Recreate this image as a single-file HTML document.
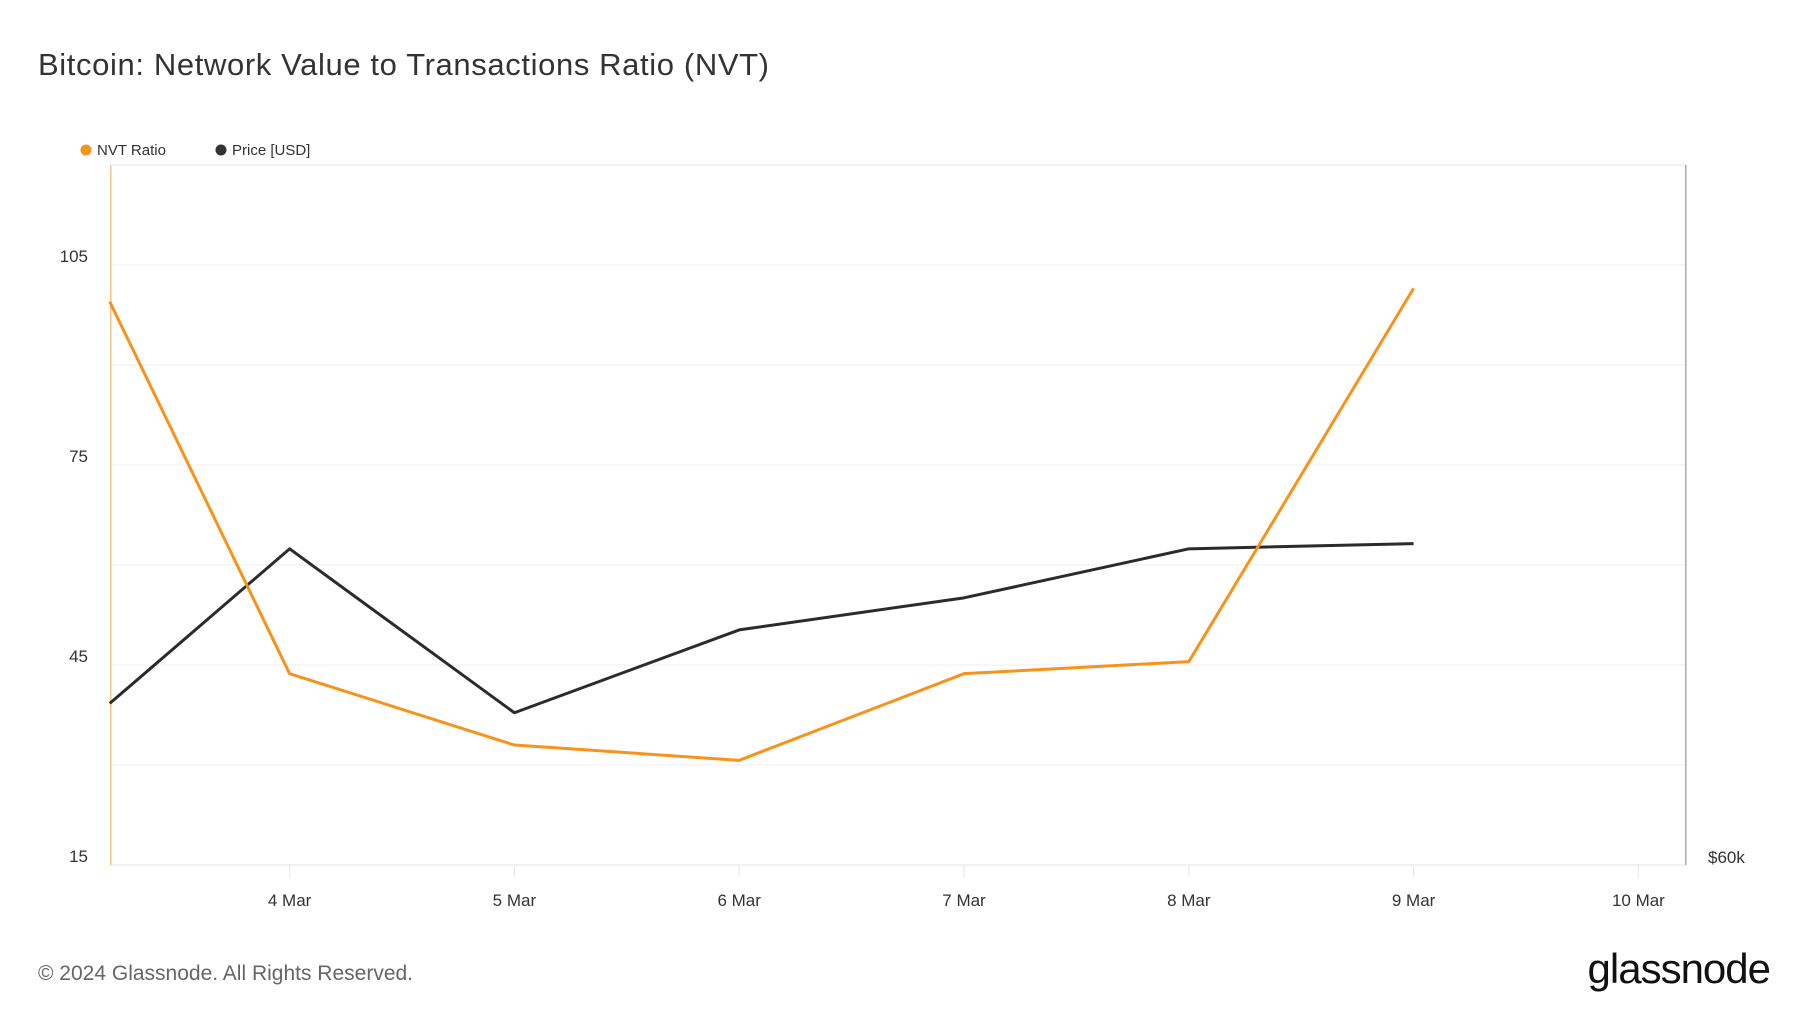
<!DOCTYPE html>
<html><head><meta charset="utf-8">
<style>
html,body{margin:0;padding:0;background:#fff;}
body{width:1800px;height:1013px;overflow:hidden;font-family:"Liberation Sans",sans-serif;}
</style></head>
<body>
<svg width="1800" height="1013" viewBox="0 0 1800 1013" xmlns="http://www.w3.org/2000/svg" font-family="Liberation Sans, sans-serif">
<text x="38" y="75" font-size="31" fill="#333" textLength="731">Bitcoin: Network Value to Transactions Ratio (NVT)</text>
<g>
<circle cx="86" cy="150" r="5.5" fill="#f7931a"/>
<text x="97" y="155" font-size="15" fill="#333">NVT Ratio</text>
<circle cx="221" cy="150" r="5.5" fill="#333"/>
<text x="232" y="155" font-size="15" fill="#333">Price [USD]</text>
</g>
<g id="grid"></g>
<rect x="110.8" y="165" width="1575" height="700" fill="none" stroke="#e6e6e6"/>
<line x1="110.8" y1="165" x2="110.8" y2="865" stroke="#f5c48a" stroke-width="1.5"/>
<line x1="1685.8" y1="165" x2="1685.8" y2="865" stroke="#aaa" stroke-width="1.5"/>
<g id="axes"></g>
<g id="series"></g>
<text x="38" y="980" font-size="21" fill="#666">© 2024 Glassnode. All Rights Reserved.</text>
<text x="1770" y="983" font-size="42" fill="#111" text-anchor="end" font-weight="500" letter-spacing="-1">glassnode</text>
</svg>
<script>
const dayOffsets = [-0.8,0,1,2,3,4,5];
const nvtValues = [99.5,43.7,33.0,30.7,43.7,45.5,101.5];
const priceValues = [62.77,65.42,62.61,64.03,64.58,65.42,65.51];
const xTickLabels = ["4 Mar","5 Mar","6 Mar","7 Mar","8 Mar","9 Mar","10 Mar"];
const yTicks = [15,45,75,105];
const yGrid = [15,30,45,60,75,90,105];

const NS="http://www.w3.org/2000/svg";
const L=110.8,R=1685.8,T=165,B=865;
const dayW=224.8, x4=289.6;
function xDay(d){return x4+d*dayW;}
function yNvt(v){return B-(v-15)*(600/90);}
function yPrice(v){return B-(v-60)*(700/12);}
function mk(tag,attrs,parent){const e=document.createElementNS(NS,tag);for(const k in attrs)e.setAttribute(k,attrs[k]);parent.appendChild(e);return e;}
const grid=document.getElementById('grid'),axes=document.getElementById('axes'),series=document.getElementById('series');
yGrid.forEach(v=>{
  const l=mk('line',{x1:L,x2:R,y1:yNvt(v),y2:yNvt(v),stroke:'#efefef','stroke-width':1},grid);
  
  
});
yTicks.forEach(v=>{
  const t=mk('text',{x:88,y:yNvt(v)-3,'font-size':17,fill:'#333','text-anchor':'end'},axes);
  t.textContent=v;
  
  
});
const p=mk('text',{x:1708,y:863,'font-size':17,fill:'#333'},axes);
p.textContent='$60k';


xTickLabels.forEach((s,i)=>{
  const x=xDay(i);
  const tk=mk('line',{x1:x,x2:x,y1:B,y2:B+12,stroke:'#e6e6e6'},axes);
  
  
  const t=mk('text',{x:x,y:906,'font-size':17,fill:'#333','text-anchor':'middle'},axes);
  t.textContent=s;
  
  
});
const pricePts=priceValues.map((v,i)=>xDay(dayOffsets[i])+','+yPrice(v)).join(' ');
const pl=mk('polyline',{points:pricePts,fill:'none',stroke:'#2b2b2b','stroke-width':3,'stroke-linejoin':'round'},series);


const nvtPts=nvtValues.map((v,i)=>xDay(dayOffsets[i])+','+yNvt(v)).join(' ');
const nl=mk('polyline',{points:nvtPts,fill:'none',stroke:'#f7931a','stroke-width':3,'stroke-linejoin':'round'},series);


</script>
</body></html>
